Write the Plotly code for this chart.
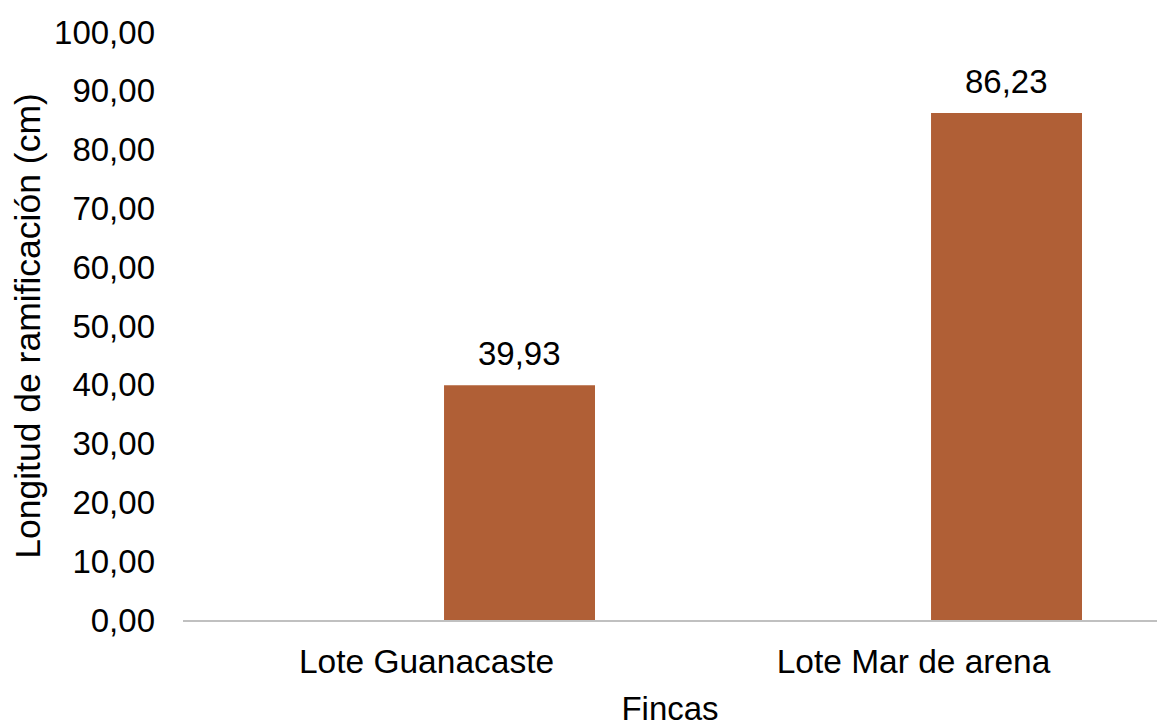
import plotly.graph_objects as go

categories = ["Lote Guanacaste", "Lote Mar de arena"]
values = [39.93, 86.23]
y_ticks = [0, 10, 20, 30, 40, 50, 60, 70, 80, 90, 100]

BAR_OFFSET = 0.036
BAR_WIDTH = 0.31
FONT = "Liberation Sans, Arial, sans-serif"

fig = go.Figure()
fig.add_trace(go.Bar(
    x=categories,
    y=values,
    offset=BAR_OFFSET,
    width=BAR_WIDTH,
    marker=dict(color="#b05f36", line=dict(width=0)),
    showlegend=False,
    hoverinfo="skip",
))

for i, v in enumerate(values):
    fig.add_annotation(
        x=i + BAR_OFFSET + BAR_WIDTH / 2,
        y=v,
        text=f"{v:.2f}".replace(".", ","),
        showarrow=False,
        yanchor="bottom",
        yshift=11,
        font=dict(family=FONT, size=33, color="#000000"),
    )

fig.update_layout(
    width=1176,
    height=727,
    margin=dict(l=175, r=27, t=24, b=115, autoexpand=False),
    paper_bgcolor="white",
    plot_bgcolor="white",
    separators=", ",
    font=dict(family=FONT, size=33, color="#000000"),
    xaxis=dict(
        type="category",
        range=[-0.5, 1.5],
        automargin=False,
        showline=True,
        linecolor="#c0c0c0",
        linewidth=2,
        showgrid=False,
        ticks="",
        ticklabelstandoff=11,
        tickfont=dict(family=FONT, size=33.5, color="#000000"),
        title=dict(text="Fincas", font=dict(family=FONT, size=33, color="#000000"), standoff=18),
    ),
    yaxis=dict(
        range=[0, 100],
        automargin=False,
        tickvals=y_ticks,
        ticktext=[f"{t:.2f}".replace(".", ",") for t in y_ticks],
        showgrid=False,
        zeroline=False,
        showline=False,
        ticks="",
        ticklabelstandoff=27,
        tickfont=dict(family=FONT, size=33, color="#000000"),
        title=dict(text="Longitud de ramificación (cm)", font=dict(family=FONT, size=35.5, color="#000000"), standoff=14),
    ),
)

fig.write_html("out.html")
